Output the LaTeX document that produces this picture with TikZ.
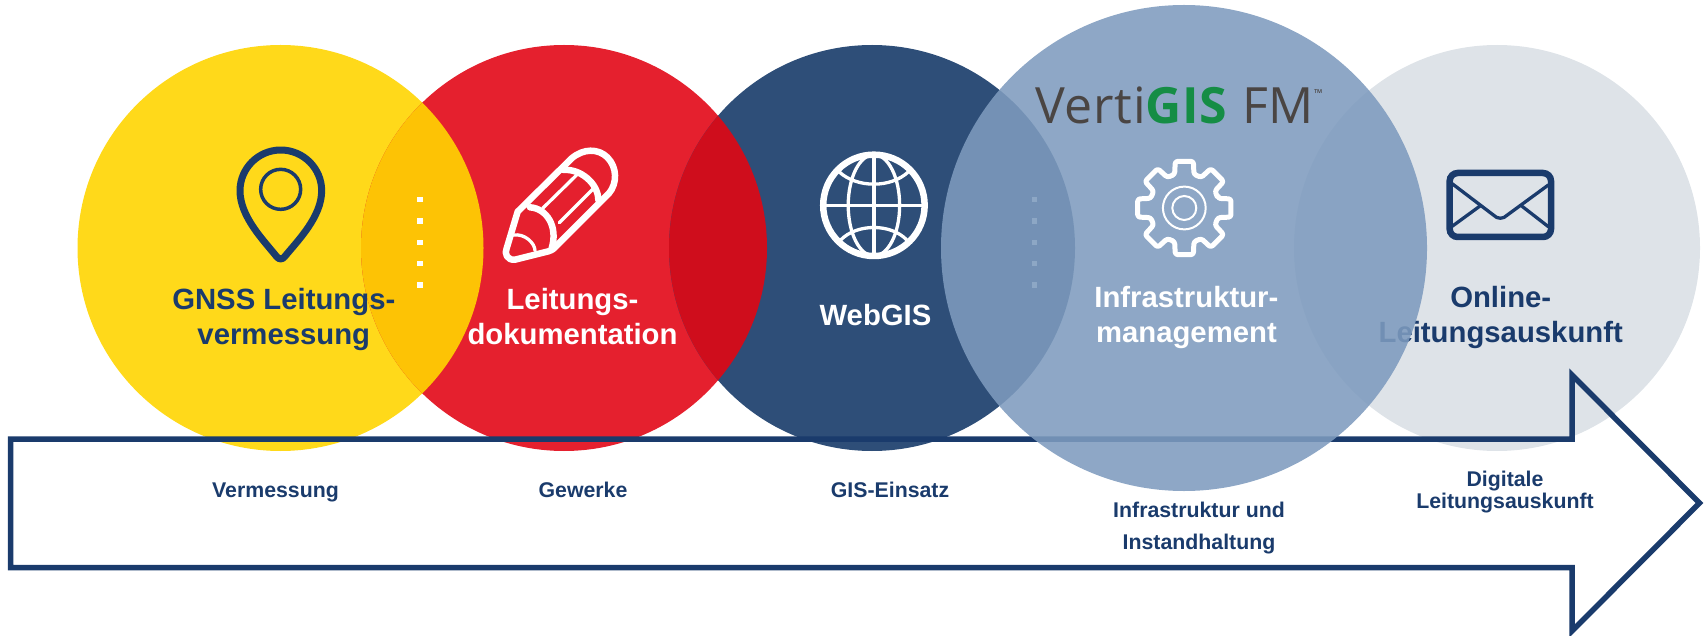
\documentclass[tikz,border=0pt]{standalone}
\usepackage{fontspec}
\setmainfont{Liberation Sans}
\newfontfamily\logofont[LetterSpace=1.5]{Open Sans}
\usepackage{tikz}
\usetikzlibrary{positioning}
\definecolor{navyline}{HTML}{1A3B6C}
\definecolor{goldfill}{HTML}{FFD91A}
\definecolor{redfill}{HTML}{E5202E}
\definecolor{navyfill}{HTML}{2E4E78}
\definecolor{bluefill}{HTML}{7E9BBE}
\definecolor{greyfill}{HTML}{DEE3E8}
\definecolor{amberfill}{HTML}{FDC305}
\definecolor{darkred}{HTML}{CF0D1C}
\definecolor{logogrey}{HTML}{4A4543}
\definecolor{logogreen}{HTML}{158D45}
\tikzset{
	disc/.style={circle, draw=none, inner sep=0pt, minimum size=406pt},
	bigdisc/.style={circle, draw=none, inner sep=0pt, minimum size=486pt},
	biglabel/.style={inner sep=0pt, align=center, anchor=base, font=\bfseries\fontsize{29.3}{35}\selectfont},
	smalllabel/.style={inner sep=0pt, align=center, anchor=base, text=navyline, font=\bfseries\fontsize{21.3}{21.7}\selectfont},
	dotmark/.style={rectangle, fill=white, inner sep=0pt, minimum size=5.5pt},
	iconthick/.style={line width=6.5pt, line join=round, line cap=round},
	iconthin/.style={line width=3.3pt, line join=round, line cap=round}
}
\begin{document}
\begin{tikzpicture}[x=1pt,y=-1pt]
	\useasboundingbox (0,0) rectangle (1704,636);
	
	\node[disc, fill=goldfill] (gnss) at (280.5,248) {};
	\node[disc, fill=redfill] (doku) at (564,248) {};
	\node[disc, fill=navyfill] (webgis) at (872,248) {};
	\node[disc, fill=greyfill] (online) at (1497,248) {};
	
	\begin{scope}
		\clip (280.5,248) circle (203);
		\fill[amberfill] (564,248) circle (203);
	\end{scope}
	\begin{scope}
		\clip (564,248) circle (203);
		\fill[darkred] (872,248) circle (203);
	\end{scope}
	
	\foreach \y in {199.5,221,242.3,263.5,285} {
		\node[dotmark] at (420,\y) {};
		\node[dotmark] at (1034.6,\y) {};
	}
	
	% big arrow
	\draw[navyline, line width=5.5pt, miter limit=10] (10.5,439) -- (1572,439) -- (1572,375) -- (1699.5,503) -- (1572,631) -- (1572,567.5) -- (10.5,567.5) -- cycle;
	
	\node[biglabel, text=navyline] (online text) at (1500.7,342.7) {Online-\\Leitungsauskunft};
	
	\node[bigdisc, fill=bluefill, opacity=.88] (infra) at (1184,248) {};
	
	\node[biglabel, text=navyline] (gnss text) at (283.8,344) {GNSS Leitungs-\\vermessung};
	\node[biglabel, text=white] (doku text) at (572.5,344) {Leitungs-\\dokumentation};
	\node[biglabel, text=white] (webgis text) at (875.5,325.7) {WebGIS};
	\node[biglabel, text=white] (infra text) at (1186.4,342) {Infrastruktur-\\management};
	
	\node[smalllabel] (a) at (275.5,497) {Vermessung};
	\node[smalllabel] (b) at (583,497) {Gewerke};
	\node[smalllabel] (c) at (890,497) {GIS-Einsatz};
	\node[smalllabel, font=\bfseries\fontsize{21.3}{32}\selectfont] (d) at (1199,549) {Infrastruktur und\\Instandhaltung};
	\node[smalllabel] (e) at (1505,508.3) {Digitale\\Leitungsauskunft};
	
	% logo
	\node[inner sep=0pt, anchor=base west, text=logogrey, font=\logofont\fontsize{50}{50}\selectfont] (logo) at (1035,124) {Verti\textcolor{logogreen}{\textbf{GIS}} FM};
	\node[inner sep=0pt, anchor=base west, text=logogrey, font=\logofont\fontsize{11}{11}\selectfont] (tm) at (1314,98) {™};
	
	% pin and pencil
	\begin{scope}[shift={(150,120)},scale=1/3]
		\draw[navyline, line width=7pt, line join=round] (392,90) .. controls (325,90) and (270,145) .. (270,212) .. controls (270,290) and (340,360) .. (380,410) .. controls (387,419) and (397,419) .. (404,410) .. controls (445,360) and (515,290) .. (515,212) .. controls (515,145) and (460,90) .. (392,90) -- cycle;
		\draw[navyline, line width=3.5pt] (392,208) circle (60);
		
		\draw[white, iconthick] (1103,275) -- (1265,115) .. controls (1300,85) and (1345,85) .. (1372,112) .. controls (1402,142) and (1402,190) .. (1377,220) -- (1215,382) .. controls (1208,390) and (1200,392) .. (1195,394) -- (1095,419) .. controls (1072,422) and (1062,400) .. (1070,385) -- cycle;
		\draw[white, iconthick] (1240,150) .. controls (1290,145) and (1345,190) .. (1345,240);
		\draw[white, iconthick] (1140,262) .. controls (1190,265) and (1225,320) .. (1205,385);
		\draw[white, iconthin] (1282,163) -- (1178,265);
		\draw[white, iconthin] (1328,208) -- (1228,308);
		\draw[white, iconthin] (1090,345) .. controls (1125,340) and (1155,370) .. (1155,392);
	\end{scope}
	
	% globe
	\begin{scope}[shift={(780,60)},xscale=1/2.8,yscale=1/3]
		\draw[white, iconthick] (263,436) ellipse (142 and 152);
		\draw[white, iconthin] (263,284) -- (263,588);
		\draw[white, iconthin] (121,436) -- (405,436);
		\draw[white, iconthin] (263,436) ellipse (72 and 152);
		\draw[white, iconthin] (165,335) .. controls (215,385) and (311,385) .. (360,335);
		\draw[white, iconthin] (170,540) .. controls (215,490) and (311,490) .. (355,540);
	\end{scope}
	
	% gear
	\begin{scope}[shift={(1184.3,208)}]
		\draw[white, line width=5pt, line join=round, rounded corners=2.5pt] (-16:35) \foreach \a in {0,45,...,315} { -- (\a-16:35) -- (\a-11:47.5) -- (\a+11:47.5) -- (\a+16:35) } -- cycle;
		\draw[white, line width=2pt] (0,0) circle (21.4);
		\draw[white, line width=2pt] (0,0) circle (12);
	\end{scope}
	
	% envelope
	\begin{scope}[shift={(1300,140)},scale=1/3]
		\draw[navyline, line width=6.5pt, rounded corners=8pt] (449,99) rectangle (753,291);
		\draw[navyline, iconthin] (455,130) -- (580,225) .. controls (592,238) and (610,238) .. (622,225) -- (745,135);
		\draw[navyline, iconthin] (455,260) -- (540,198);
		\draw[navyline, iconthin] (745,260) -- (665,198);
	\end{scope}
\end{tikzpicture}
\end{document}
